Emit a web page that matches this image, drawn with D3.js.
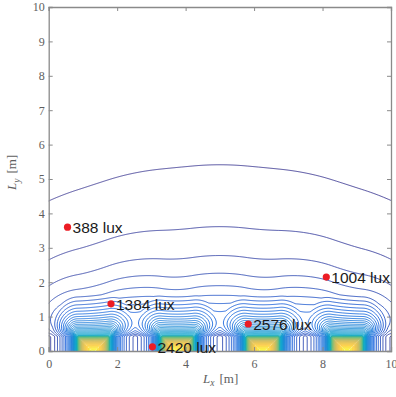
<!DOCTYPE html>
<html>
<head>
<meta charset="utf-8">
<script src="https://cdn.jsdelivr.net/npm/d3@7"></script>
<style>
  body { margin: 0; background: #fff; }
  svg { display: block; }
</style>
</head>
<body>
<svg id="chart" width="396" height="397"></svg>
<script>
// ------------------------------------------------------------
// data
// ------------------------------------------------------------
// lamp footprints on the wall (m)
var lampLeft  = [0.84, 3.29, 5.77, 8.25];
var lampRight = [1.77, 4.23, 6.74, 9.18];
var lampTop   = 0.43;
var lampGlowLux = [5250, 5250, 5250, 5250];   // broad light at the lamp face
var lampDomeLux = [1200, 1200, 1200, 1200];   // short-range light at the face
var lampCoreLux = [9500, 9500, 9500, 9500];   // extra lux inside the lamp

var glowSoft = 1.2;      // m
var glowFalloff = 2.6;
var beamOffset = 0.1;    // m
var domeReach = 1.2;     // m
var domeAspect = 1.6;
var wallReflect = 0.2;

// contour levels (lux)
var levelStep = 250;
var levelMax = 16000;
var colorRange = [100, 16000];

// measured points
var markX   = [0.55, 1.82, 3.03, 5.83, 8.11];
var markY   = [3.60, 1.37, 0.12, 0.785, 2.15];
var markLux = [388, 1384, 2420, 2576, 1004];

var xTicks = [0, 2, 4, 6, 8, 10];
var yTicks = [0, 1, 2, 3, 4, 5, 6, 7, 8, 9, 10];

var parula = ["#352a87", "#0f5cdd", "#1481d6", "#06a4ca", "#2eb7a4",
              "#87bf77", "#d1bb59", "#fec832", "#f9fb0e"];

// ------------------------------------------------------------
// layout
// ------------------------------------------------------------
var svg = d3.select("#chart");
var x = d3.scaleLinear().domain([0, 10]).range([48.7, 391]);
var y = d3.scaleLinear().domain([0, 10]).range([351, 7]);

svg.append("clipPath").attr("id", "plotclip")
    .append("rect")
    .attr("x", x(0)).attr("y", y(10))
    .attr("width", x(10) - x(0)).attr("height", y(0) - y(10));

// ------------------------------------------------------------
// illuminance field
// ------------------------------------------------------------
function lampLux(px, py, a, b, glow, dome, core) {
    var dx = px < a ? a - px : (px > b ? px - b : 0);
    if (dx === 0 && py <= lampTop) {
        var depth = Math.max(0, Math.min(lampTop - py, px - a, b - px));
        return glow + dome + core * Math.sqrt(depth / lampTop);
    }
    var dy = Math.max(py - lampTop, 0);
    var v = dy + glowSoft;
    var h = dy + beamOffset;
    var cos = dx === 0 ? 1 : h / Math.sqrt(dx * dx + h * h);
    var e = glow * Math.pow(glowSoft * glowSoft / (dx * dx + v * v), glowFalloff / 2) * cos;
    var d = Math.sqrt(dx * dx * domeAspect * domeAspect + dy * dy);
    if (d < domeReach) {
        e += dome * (1 - d / domeReach);
    }
    return e;
}

function lux(px, py) {
    var e = 0;
    for (var i = 0; i < lampLeft.length; i++) {
        var a = lampLeft[i], b = lampRight[i];
        e += lampLux(px, py, a, b, lampGlowLux[i], lampDomeLux[i], lampCoreLux[i]);
        e += wallReflect * lampLux(px, py, -b, -a, lampGlowLux[i], 0, 0);
        e += wallReflect * lampLux(px, py, 20 - b, 20 - a, lampGlowLux[i], 0, 0);
    }
    return e;
}

var cell = 10 / 342;
var gx0 = -0.15, gy0 = -0.15;
var nx = Math.ceil(10.3 / cell) + 1;
var ny = Math.ceil(10.3 / cell) + 1;
var values = new Float64Array(nx * ny);
for (var j = 0; j < ny; j++) {
    for (var i = 0; i < nx; i++) {
        values[j * nx + i] = lux(gx0 + i * cell, gy0 + j * cell);
    }
}

var levels = d3.range(levelStep, levelMax + 1, levelStep);
var contours = d3.contours().size([nx, ny]).thresholds(levels)(values);

var toPlot = d3.geoTransform({
    point: function (gx, gy) {
        this.stream.point(x(gx0 + (gx - 0.5) * cell), y(gy0 + (gy - 0.5) * cell));
    }
});
var path = d3.geoPath(toPlot);
var parulaAt = d3.piecewise(d3.interpolateRgb, parula);
var color = function (v) {
    var t = (v - colorRange[0]) / (colorRange[1] - colorRange[0]);
    return parulaAt(Math.max(0, Math.min(1, t)));
};

svg.append("g")
    .attr("clip-path", "url(#plotclip)")
    .selectAll("path")
    .data(contours)
    .enter()
    .append("path")
    .attr("d", path)
    .attr("fill", "none")
    .attr("stroke", function (d) { return color(d.value); })
    .attr("stroke-width", 0.85)
    .attr("stroke-linejoin", "round");

// ------------------------------------------------------------
// axes (box on, ticks inward)
// ------------------------------------------------------------
var axisColor = "#8a8a8a";
var serif = "'Liberation Serif', 'Times New Roman', serif";

svg.append("g").attr("transform", "translate(0," + y(0) + ")")
    .call(d3.axisBottom(x).tickValues(xTicks).tickSize(-4).tickPadding(8).tickFormat(d3.format("d")));
svg.append("g").attr("transform", "translate(0," + y(10) + ")")
    .call(d3.axisTop(x).tickValues(xTicks).tickSize(-4).tickFormat(""));
svg.append("g").attr("transform", "translate(" + x(0) + ",0)")
    .call(d3.axisLeft(y).tickValues(yTicks).tickSize(-4).tickPadding(4).tickFormat(d3.format("d")));
svg.append("g").attr("transform", "translate(" + x(10) + ",0)")
    .call(d3.axisRight(y).tickValues(yTicks).tickSize(-4).tickFormat(""));

svg.selectAll(".domain").attr("stroke", axisColor).attr("stroke-width", 1.3);
svg.selectAll(".tick line").attr("stroke", axisColor).attr("stroke-width", 1);
svg.selectAll(".tick text")
    .attr("fill", "#5e5e5e")
    .style("font-family", serif)
    .style("font-size", "12px");

// axis labels
var xl = svg.append("text")
    .attr("x", 203).attr("y", 382.5)
    .attr("fill", "#5e5e5e")
    .style("font-family", serif)
    .style("font-size", "13px");
xl.append("tspan").style("font-style", "italic").text("L");
xl.append("tspan").style("font-style", "italic").style("font-size", "9.5px").attr("dy", 3.5).text("x");
xl.append("tspan").attr("dy", -3.5).attr("dx", 5).text("[m]");

var yl = svg.append("text")
    .attr("transform", "translate(16,190) rotate(-90)")
    .attr("fill", "#5e5e5e")
    .style("font-family", serif)
    .style("font-size", "13px");
yl.append("tspan").style("font-style", "italic").text("L");
yl.append("tspan").style("font-style", "italic").style("font-size", "9.5px").attr("dy", 3.5).text("y");
yl.append("tspan").attr("dy", -3.5).attr("dx", 5).text("[m]");

// ------------------------------------------------------------
// measured points
// ------------------------------------------------------------
var marks = d3.range(markX.length);
svg.append("g").selectAll("circle")
    .data(marks)
    .enter()
    .append("circle")
    .attr("cx", function (i) { return x(markX[i]); })
    .attr("cy", function (i) { return y(markY[i]); })
    .attr("r", 3.6)
    .attr("fill", "#ec1c24");

svg.append("g").selectAll("text")
    .data(marks)
    .enter()
    .append("text")
    .attr("x", function (i) { return x(markX[i]) + 5; })
    .attr("y", function (i) { return y(markY[i]) + 5.8; })
    .attr("fill", "#1a1a1a")
    .style("font-family", "'Liberation Sans', Arial, sans-serif")
    .style("font-size", "15.5px")
    .text(function (i) { return markLux[i] + " lux"; });
</script>
</body>
</html>
